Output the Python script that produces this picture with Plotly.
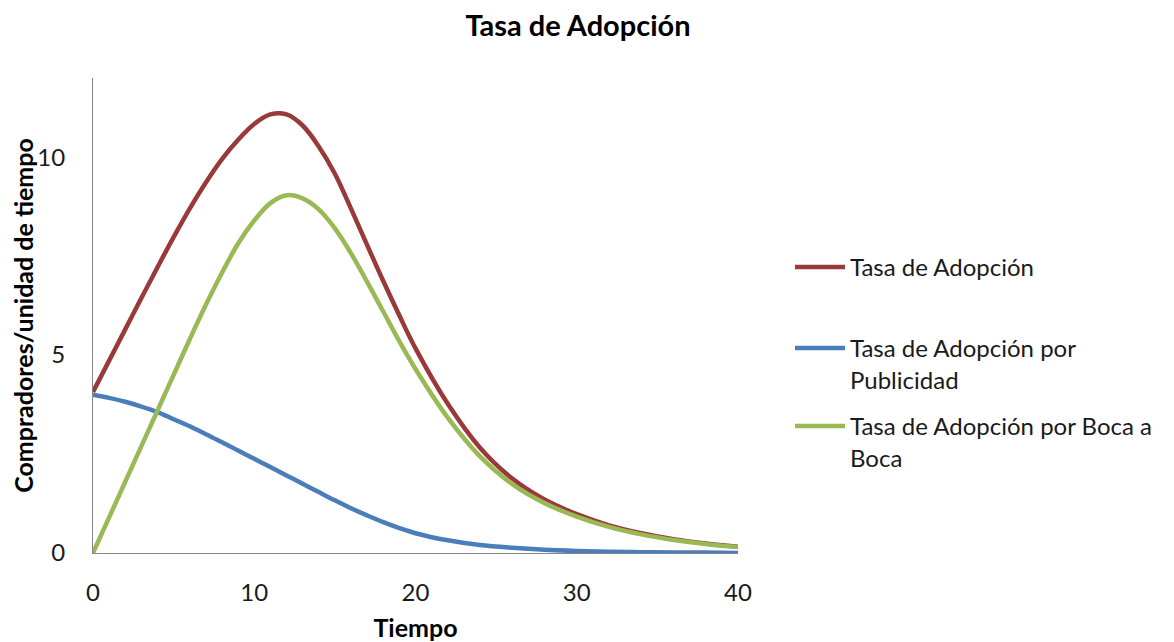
import plotly.graph_objects as go

tiempo = [0, 1, 2, 3, 4, 5, 6, 7, 8, 9, 10, 11, 12, 13, 14, 15, 16, 17, 18, 19, 20,
          22, 24, 26, 28, 30, 32, 34, 36, 38, 40]
tasa_total = [4.07, 4.86, 5.65, 6.44, 7.22, 7.98, 8.7, 9.36, 9.95, 10.44, 10.84, 11.08, 11.08, 10.8, 10.27, 9.58, 8.7, 7.78, 6.87, 6.0, 5.17,
              3.77, 2.66, 1.88, 1.35, 0.98, 0.7, 0.5, 0.35, 0.24, 0.16]
tasa_publicidad = [4.0, 3.92, 3.82, 3.7, 3.56, 3.38, 3.2, 3.0, 2.8, 2.59, 2.38, 2.17, 1.96, 1.75, 1.54, 1.33, 1.13, 0.95, 0.78, 0.63, 0.5,
                   0.32, 0.2, 0.13, 0.08, 0.05, 0.03, 0.02, 0.01, 0.01, 0.0]
tasa_boca = [0, 0.9, 1.8, 2.7, 3.6, 4.5, 5.4, 6.27, 7.08, 7.82, 8.4, 8.84, 9.04, 8.96, 8.68, 8.2, 7.57, 6.85, 6.1, 5.35, 4.65,
             3.42, 2.44, 1.74, 1.26, 0.92, 0.66, 0.47, 0.33, 0.23, 0.15]

nombres = ["Tasa de Adopción", "Tasa de Adopción por<br>Publicidad", "Tasa de Adopción por Boca a<br>Boca"]
colores = ["#99393A", "#4A7EBB", "#98B954"]
x_ticks = [0, 10, 20, 30, 40]
y_ticks = [0, 5, 10]

FONT = "Lato"
fig = go.Figure()
series = [tasa_total, tasa_publicidad, tasa_boca]
legends = ["legend", "legend2", "legend3"]
for vals, name, col, lg in zip(series, nombres, colores, legends):
    fig.add_trace(go.Scatter(x=tiempo, y=vals, mode="lines", name=name,
                             line=dict(color=col, width=4.5, shape="spline", smoothing=1),
                             legend=lg, showlegend=True))

OFF = 8  # page body margin
W, H = 1174 - OFF, 642 - OFF
L, T = 93 - OFF, 78 - OFF
R = W - (738 - OFF)
B = H - (553 - OFF)
pw, ph = W - L - R, H - T - B

def px2x(px):
    return (px - OFF - L) / pw

def fy2y(fy):
    return (H - B - fy) / ph

legfont = dict(family=FONT, size=24, color="#1a1a1a")
leg_common = dict(xref="paper", yref="paper", xanchor="left", yanchor="top",
                  font=legfont, bgcolor="rgba(0,0,0,0)", borderwidth=0, valign="top",
                  itemwidth=50, itemclick=False)

fig.update_layout(
    width=W, height=H,
    showlegend=True,
    margin=dict(l=L, r=R, t=T, b=B),
    paper_bgcolor="white", plot_bgcolor="white",
    title=dict(text="<b>Tasa de Adopción</b>", x=(578 - OFF) / W, xref="container", xanchor="center",
               y=1 - 18 / H, yref="container", yanchor="middle",
               font=dict(family=FONT, size=29, color="black")),
    xaxis=dict(range=[0, 40], tickvals=x_ticks, showgrid=False, zeroline=False,
               showline=True, linecolor="#868686", linewidth=1, ticks="",
               ticklabelstandoff=18, automargin=False,
               tickfont=dict(family=FONT, size=24, color="#1a1a1a"),
               title=dict(text="<b>Tiempo</b>", font=dict(family=FONT, size=25, color="black"), standoff=17)),
    yaxis=dict(range=[0, 12], tickvals=y_ticks, showgrid=False, zeroline=False,
               showline=True, linecolor="#868686", linewidth=1, ticks="",
               ticklabelstandoff=22, automargin=False,
               tickfont=dict(family=FONT, size=24, color="#1a1a1a"),
               title=dict(text="<b>Compradores/unidad de tiempo</b>", font=dict(family=FONT, size=25, color="black"), standoff=14)),
    legend=dict(x=px2x(790), y=fy2y(237), **leg_common),
    legend2=dict(x=px2x(790), y=fy2y(318), **leg_common),
    legend3=dict(x=px2x(790), y=fy2y(396), **leg_common),
)

fig.write_html("out.html")
